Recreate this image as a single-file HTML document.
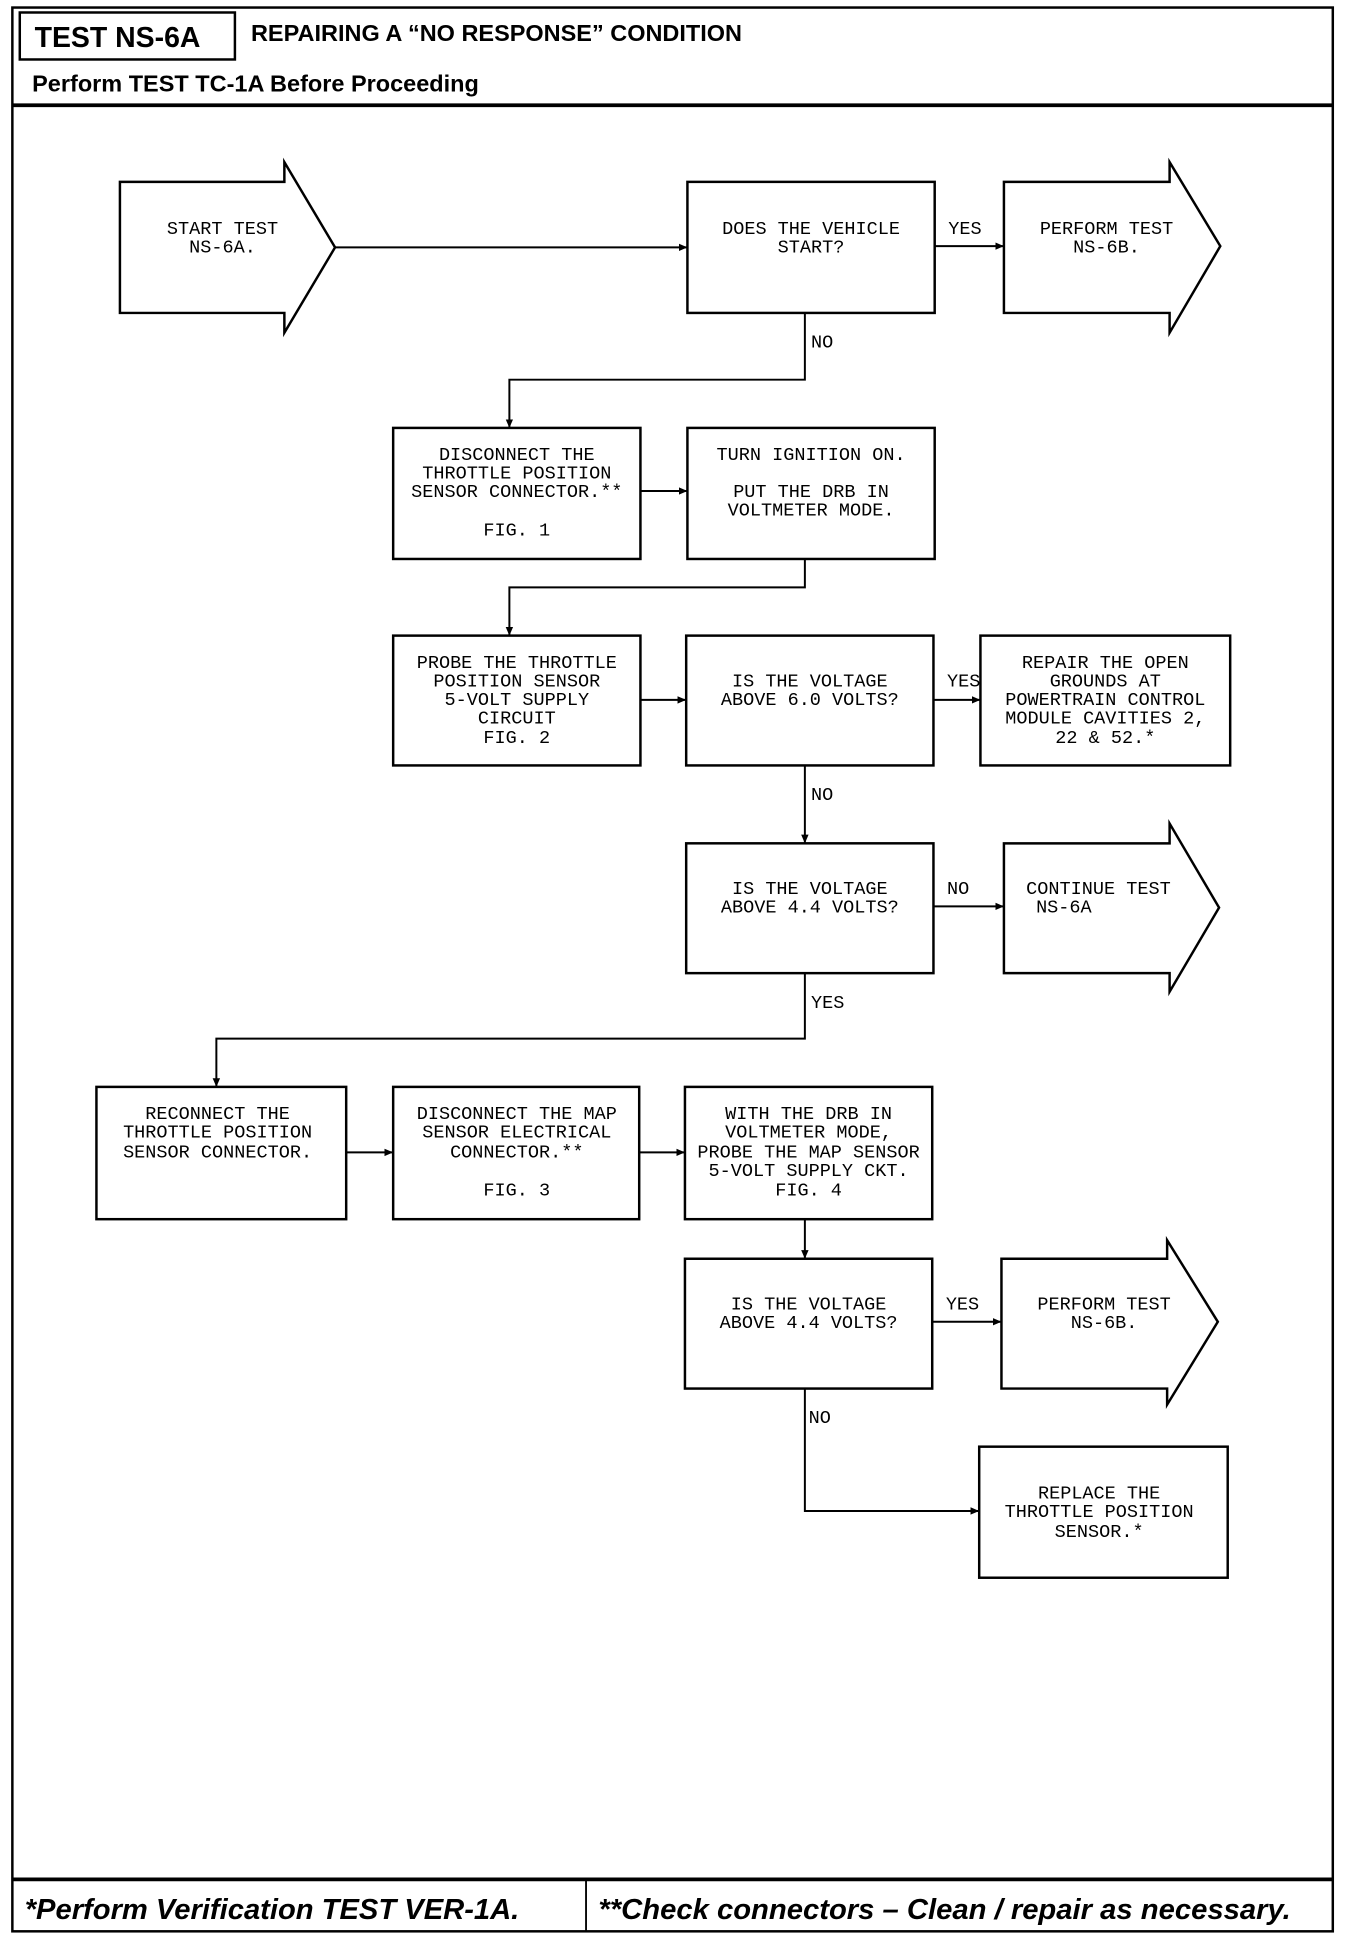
<!DOCTYPE html>
<html><head><meta charset="utf-8"><style>
html,body{margin:0;padding:0;background:#fff}
svg{display:block}
.t{font-family:"Liberation Mono",monospace;font-size:15px;fill:#000;text-anchor:middle}
.l{text-anchor:start}
.h{font-family:"Liberation Sans",sans-serif;font-weight:bold;fill:#000}
</style></head><body>
<svg width="1360" height="1950" viewBox="0 0 1100 1577" xmlns="http://www.w3.org/2000/svg">
<defs><marker id="a" markerWidth="8" markerHeight="8" refX="7" refY="4" orient="auto" markerUnits="userSpaceOnUse"><path d="M0,1 L7,4 L0,7 Z" fill="#000"/></marker></defs>
<g fill="none" stroke="#000">
<rect x="10" y="6" width="1068" height="1556" stroke-width="2"/>
<rect x="16" y="10" width="174" height="38" stroke-width="2"/>
<line x1="10" y1="85" x2="1078" y2="85" stroke-width="3"/>
<line x1="10" y1="1520" x2="1078" y2="1520" stroke-width="3"/>
<line x1="474" y1="1520" x2="474" y2="1562" stroke-width="1.5"/>
</g>
<text class="h" x="28" y="38" font-size="23">TEST NS-6A</text>
<text class="h" x="203" y="33" font-size="19">REPAIRING A “NO RESPONSE” CONDITION</text>
<text class="h" x="26" y="74" font-size="19">Perform TEST TC-1A Before Proceeding</text>
<text class="h" x="20" y="1552" font-size="23" font-style="italic" textLength="400" lengthAdjust="spacingAndGlyphs">*Perform Verification TEST VER-1A.</text>
<text class="h" x="484" y="1552" font-size="23" font-style="italic" textLength="560" lengthAdjust="spacingAndGlyphs">**Check connectors – Clean / repair as necessary.</text>

<g fill="none" stroke="#000" stroke-width="2">
<polygon points="97,147 230,147 230,131 271,200 230,269 230,253 97,253"/>
<polygon points="812,147 946,147 946,131 987,199 946,269 946,253 812,253"/>
<polygon points="812,682 946,682 946,666 986,734 946,802 946,787 812,787"/>
<polygon points="810,1018 944,1018 944,1003 985,1069 944,1136 944,1123 810,1123"/>
<rect x="556" y="147" width="200" height="106"/>
<rect x="318" y="346" width="200" height="106"/>
<rect x="556" y="346" width="200" height="106"/>
<rect x="318" y="514" width="200" height="105"/>
<rect x="555" y="514" width="200" height="105"/>
<rect x="793" y="514" width="202" height="105"/>
<rect x="555" y="682" width="200" height="105"/>
<rect x="78" y="879" width="202" height="107"/>
<rect x="318" y="879" width="199" height="107"/>
<rect x="554" y="879" width="200" height="107"/>
<rect x="554" y="1018" width="200" height="105"/>
<rect x="792" y="1170" width="201" height="106"/>
</g>
<g fill="none" stroke="#000" stroke-width="1.6" marker-end="url(#a)">
<line x1="271" y1="200" x2="556" y2="200"/>
<line x1="756" y1="199" x2="812" y2="199"/>
<polyline points="651,253 651,307 412,307 412,346"/>
<line x1="518" y1="397" x2="556" y2="397"/>
<polyline points="651,452 651,475 412,475 412,514"/>
<line x1="518" y1="566" x2="555" y2="566"/>
<line x1="755" y1="566" x2="793" y2="566"/>
<line x1="651" y1="619" x2="651" y2="682"/>
<line x1="755" y1="733" x2="812" y2="733"/>
<polyline points="651,787 651,840 175,840 175,879"/>
<line x1="280" y1="932" x2="318" y2="932"/>
<line x1="517" y1="932" x2="554" y2="932"/>
<line x1="651" y1="986" x2="651" y2="1018"/>
<line x1="754" y1="1069" x2="810" y2="1069"/>
<polyline points="651,1123 651,1222 792,1222"/>
</g>
<g class="t">
<text class="t" x="180" y="189">START TEST</text><text class="t" x="180" y="204">NS-6A.</text>
<text class="t" x="656" y="189">DOES THE VEHICLE</text><text class="t" x="656" y="204">START?</text>
<text class="t l" x="767" y="189">YES</text>
<text class="t" x="895" y="189">PERFORM TEST</text><text class="t" x="895" y="204">NS-6B.</text>
<text class="t l" x="656" y="281">NO</text>
<text class="t" x="418" y="372">DISCONNECT THE</text><text class="t" x="418" y="387">THROTTLE POSITION</text><text class="t" x="418" y="402">SENSOR CONNECTOR.**</text><text class="t" x="418" y="433">FIG. 1</text>
<text class="t" x="656" y="372">TURN IGNITION ON.</text><text class="t" x="656" y="402">PUT THE DRB IN</text><text class="t" x="656" y="417">VOLTMETER MODE.</text>
<text class="t" x="418" y="540">PROBE THE THROTTLE</text><text class="t" x="418" y="555">POSITION SENSOR</text><text class="t" x="418" y="570">5-VOLT SUPPLY</text><text class="t" x="418" y="585">CIRCUIT</text><text class="t" x="418" y="601">FIG. 2</text>
<text class="t" x="655" y="555">IS THE VOLTAGE</text><text class="t" x="655" y="570">ABOVE 6.0 VOLTS?</text>
<text class="t l" x="766" y="555">YES</text>
<text class="t" x="894" y="540">REPAIR THE OPEN</text><text class="t" x="894" y="555">GROUNDS AT</text><text class="t" x="894" y="570">POWERTRAIN CONTROL</text><text class="t" x="894" y="585">MODULE CAVITIES 2,</text><text class="t" x="894" y="601">22 &amp; 52.*</text>
<text class="t l" x="656" y="647">NO</text>
<text class="t" x="655" y="723">IS THE VOLTAGE</text><text class="t" x="655" y="738">ABOVE 4.4 VOLTS?</text>
<text class="t l" x="766" y="723">NO</text>
<text class="t l" x="830" y="723">CONTINUE TEST</text><text class="t l" x="838" y="738">NS-6A</text>
<text class="t l" x="656" y="815">YES</text>
<text class="t" x="176" y="905">RECONNECT THE</text><text class="t" x="176" y="920">THROTTLE POSITION</text><text class="t" x="176" y="936">SENSOR CONNECTOR.</text>
<text class="t" x="418" y="905">DISCONNECT THE MAP</text><text class="t" x="418" y="920">SENSOR ELECTRICAL</text><text class="t" x="418" y="936">CONNECTOR.**</text><text class="t" x="418" y="967">FIG. 3</text>
<text class="t" x="654" y="905">WITH THE DRB IN</text><text class="t" x="654" y="920">VOLTMETER MODE,</text><text class="t" x="654" y="936">PROBE THE MAP SENSOR</text><text class="t" x="654" y="951">5-VOLT SUPPLY CKT.</text><text class="t" x="654" y="967">FIG. 4</text>
<text class="t" x="654" y="1059">IS THE VOLTAGE</text><text class="t" x="654" y="1074">ABOVE 4.4 VOLTS?</text>
<text class="t l" x="765" y="1059">YES</text>
<text class="t" x="893" y="1059">PERFORM TEST</text><text class="t" x="893" y="1074">NS-6B.</text>
<text class="t l" x="654" y="1151">NO</text>
<text class="t" x="889" y="1212">REPLACE THE</text><text class="t" x="889" y="1227">THROTTLE POSITION</text><text class="t" x="889" y="1243">SENSOR.*</text>
</g>
</svg>
</body></html>
